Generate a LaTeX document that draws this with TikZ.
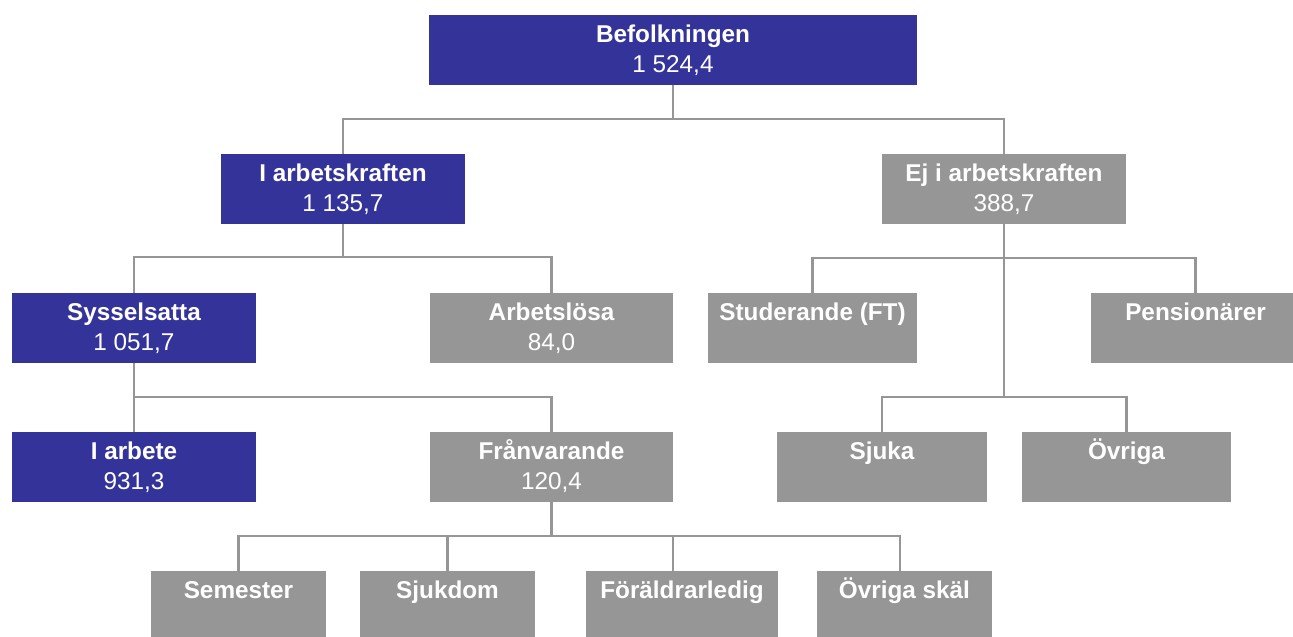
\documentclass[tikz,border=0pt]{standalone}
\usepackage{fontspec}
\setmainfont{Liberation Sans}
\usetikzlibrary{calc}
\definecolor{boxblue}{RGB}{51,51,153}
\definecolor{boxgray}{RGB}{150,150,150}
\definecolor{linegray}{RGB}{150,150,150}
\tikzset{
  boxbase/.style={rectangle, inner sep=0pt, outer sep=0pt, anchor=north west, minimum height=69.5pt},
  bluebox/.style={boxbase, fill=boxblue},
  graybox/.style={boxbase, fill=boxgray},
  titletext/.style={anchor=base, inner sep=0pt, text=white, font=\fontsize{24.3}{29}\selectfont\bfseries},
  numtext/.style={anchor=base, inner sep=0pt, text=white, font=\fontsize{24.3}{29}\selectfont},
  conn/.style={draw=linegray, line width=2.6pt}
}
\newcommand\mkbox[7]{%
  \node[#5, minimum width=#4pt] (#1) at (#2,-#3) {};
  \node[titletext] (#1t) at ([yshift=-27.5pt]#1.north) {#6};
  \node[numtext] (#1n) at ([yshift=-57pt]#1.north) {#7};
}
\begin{document}
\begin{tikzpicture}[x=1pt,y=1pt]
\useasboundingbox (0,0) rectangle (1293,-637);
% connectors (drawn first, boxes on top)
\coordinate (j1) at (673,-119);
\coordinate (j2) at (343,-257);
\coordinate (j3) at (1004,-258);
\coordinate (j4) at (1004,-397);
\coordinate (j5) at (134,-397);
\coordinate (j6) at (551.5,-536);
% boxes
\mkbox{bef}{429}{15}{488}{bluebox}{Befolkningen}{1 524,4}
\mkbox{ia}{221}{154}{244}{bluebox}{I arbetskraften}{1 135,7}
\mkbox{ej}{882}{154}{244}{graybox}{Ej i arbetskraften}{388,7}
\mkbox{syss}{12}{293}{244}{bluebox}{Sysselsatta}{1 051,7}
\mkbox{arbl}{430}{293}{243}{graybox}{Arbetslösa}{84,0}
\mkbox{stud}{708}{293}{209}{graybox}{Studerande (FT)}{}
\mkbox{pens}{1091}{293}{209}{graybox}{Pensionärer}{}
\mkbox{iarb}{12}{432}{244}{bluebox}{I arbete}{931,3}
\mkbox{fran}{430}{432}{243}{graybox}{Frånvarande}{120,4}
\mkbox{sjuka}{777}{432}{210}{graybox}{Sjuka}{}
\mkbox{ovr}{1022}{432}{209}{graybox}{Övriga}{}
\mkbox{sem}{151}{571}{175}{graybox}{Semester}{}
\mkbox{sjd}{360}{571}{175}{graybox}{Sjukdom}{}
\mkbox{fora}{586}{571}{192}{graybox}{Föräldrarledig}{}
\mkbox{ovs}{817}{571}{175}{graybox}{Övriga skäl}{}
\coordinate (foratop) at ([xshift=87pt]fora.north west);
\coordinate (ovstop) at ([xshift=83pt]ovs.north west);
% connectors
\draw[conn] (bef.south) -- (j1);
\draw[conn] (ia.north) |- (j1) -| (ej.north);
\draw[conn] (ia.south) -- (j2);
\draw[conn] (syss.north) |- (j2) -| (arbl.north);
\draw[conn] (ej.south) -- (j4);
\draw[conn] (stud.north) |- (j3) -| (pens.north);
\draw[conn] (sjuka.north) |- (j4) -| (ovr.north);
\draw[conn] (syss.south) -- (iarb.north);
\draw[conn] (j5) -| (fran.north);
\draw[conn] (fran.south) -- (j6);
\draw[conn] (sem.north) |- (j6) -| (ovstop);
\draw[conn] (sjd.north) -- (sjd.north |- j6);
\draw[conn] (foratop) -- (foratop |- j6);
\end{tikzpicture}
\end{document}
